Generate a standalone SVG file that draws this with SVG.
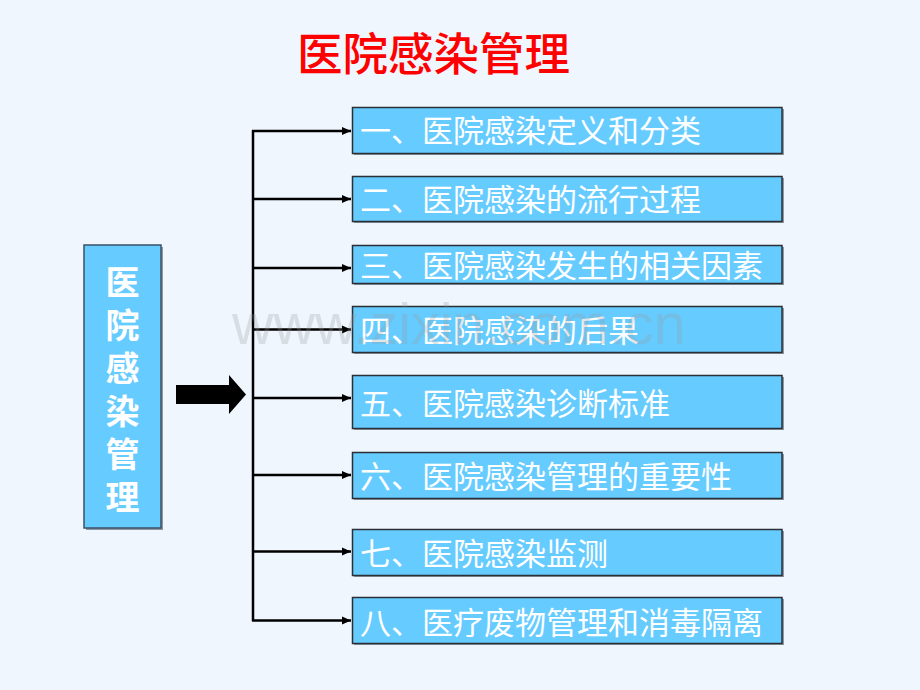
<svg xmlns="http://www.w3.org/2000/svg" width="920" height="690" viewBox="0 0 920 690">
  <defs>
    <marker id="ah" markerUnits="userSpaceOnUse" markerWidth="10" markerHeight="10" viewBox="0 0 10 10" refX="9" refY="5" orient="auto">
      <path d="M0,1 L9,5 L0,9 Z" fill="#000"/>
    </marker>
    <style>
      .bg { fill: #EFF6FE; }
      .title { font-family: "Noto Sans CJK SC", sans-serif; font-size: 45.5px; font-weight: 500; fill: #FF0000; }
      .box { fill: #66CCFF; stroke: #2B2F36; stroke-width: 1.5; }
      .shadow { fill: #8E98A4; }
      .lbl { font-family: "Noto Sans CJK SC", sans-serif; font-size: 31px; fill: #FFFFFF; }
      .vlbl { font-family: "Noto Sans CJK SC", sans-serif; font-size: 34px; font-weight: bold; fill: #FFFFFF; writing-mode: vertical-rl; letter-spacing: 9px; }
      .wm { font-family: "Liberation Sans", Arial, sans-serif; font-size: 57.5px; fill: #969696; fill-opacity: 0.26; }
      .conn { stroke: #000; stroke-width: 2.5; fill: none; }
    </style>
  </defs>
  <rect class="bg" x="0" y="0" width="920" height="690"/>

  <text class="title" x="297" y="71">医院感染管理</text>

  <g id="root">
    <rect class="shadow" x="86" y="247" width="77" height="283"/>
    <rect x="84" y="245" width="77" height="283" fill="#66CCFF" stroke="#3B5268" stroke-width="1.5"/>
    <text class="vlbl" x="122.5" y="265">医院感染管理</text>
  </g>

  <g id="big-arrow">
    <path d="M176,385 L229,385 L229,375 L246,394.5 L229,414 L229,404 L176,404 Z" fill="#000"/>
  </g>

  <g id="connectors">
    <path class="conn" d="M253,130.5 L253,621"/>
    <path class="conn" d="M252,131 L351,131" marker-end="url(#ah)"/>
    <path class="conn" d="M252,199 L351,199" marker-end="url(#ah)"/>
    <path class="conn" d="M252,268 L351,268" marker-end="url(#ah)"/>
    <path class="conn" d="M252,329.5 L351,329.5" marker-end="url(#ah)"/>
    <path class="conn" d="M252,398 L351,398" marker-end="url(#ah)"/>
    <path class="conn" d="M252,475 L351,475" marker-end="url(#ah)"/>
    <path class="conn" d="M252,551.5 L351,551.5" marker-end="url(#ah)"/>
    <path class="conn" d="M252,620.5 L351,620.5" marker-end="url(#ah)"/>
  </g>

  <g id="n1">
    <rect class="shadow" x="354" y="109" width="430" height="46"/>
    <rect class="box" x="352.5" y="107.5" width="429.5" height="46"/>
    <text class="lbl" x="360" y="142">一、医院感染定义和分类</text>
  </g>
  <g id="n2">
    <rect class="shadow" x="354" y="178" width="430" height="45"/>
    <rect class="box" x="352.5" y="176.5" width="429.5" height="45"/>
    <text class="lbl" x="360" y="211">二、医院感染的流行过程</text>
  </g>
  <g id="n3">
    <rect class="shadow" x="354" y="247" width="430" height="38"/>
    <rect class="box" x="352.5" y="245.5" width="429.5" height="38"/>
    <text class="lbl" x="360" y="277">三、医院感染发生的相关因素</text>
  </g>
  <g id="n4">
    <rect class="shadow" x="354" y="308" width="430" height="46"/>
    <rect class="box" x="352.5" y="306.5" width="429.5" height="46"/>
    <text class="lbl" x="360" y="342">四、医院感染的后果</text>
  </g>
  <g id="n5">
    <rect class="shadow" x="354" y="377" width="430" height="53"/>
    <rect class="box" x="352.5" y="375.5" width="429.5" height="53"/>
    <text class="lbl" x="360" y="415">五、医院感染诊断标准</text>
  </g>
  <g id="n6">
    <rect class="shadow" x="354" y="454" width="430" height="46"/>
    <rect class="box" x="352.5" y="452.5" width="429.5" height="46"/>
    <text class="lbl" x="360" y="488">六、医院感染管理的重要性</text>
  </g>
  <g id="n7">
    <rect class="shadow" x="354" y="531" width="430" height="46"/>
    <rect class="box" x="352.5" y="529.5" width="429.5" height="46"/>
    <text class="lbl" x="360" y="565">七、医院感染监测</text>
  </g>
  <g id="n8">
    <rect class="shadow" x="354" y="599" width="430" height="46"/>
    <rect class="box" x="352.5" y="597.5" width="429.5" height="46"/>
    <text class="lbl" x="360" y="634">八、医疗废物管理和消毒隔离</text>
  </g>

  <text class="wm" x="232" y="344">www.zixin.com.cn</text>
</svg>
